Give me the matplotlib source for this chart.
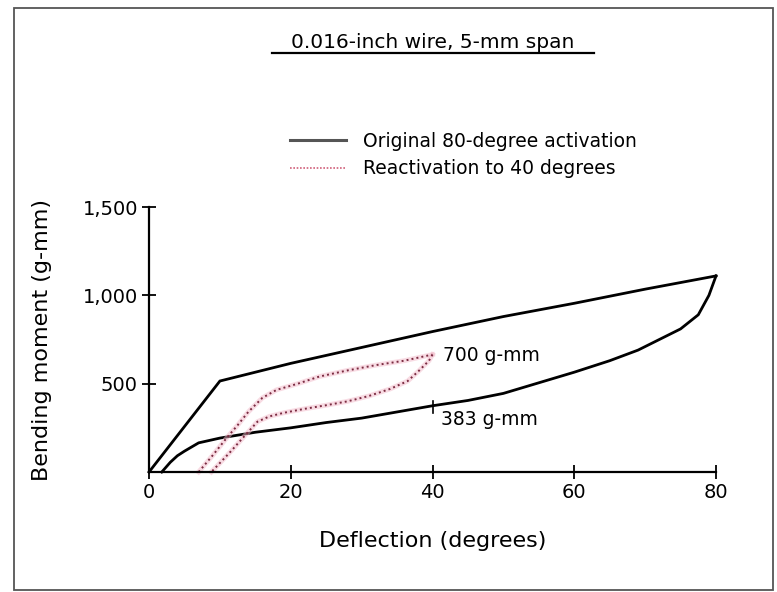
import matplotlib
matplotlib.use("Agg")
import matplotlib.pyplot as plt
from matplotlib.lines import Line2D
from matplotlib.patches import Rectangle

plt.rcParams['font.family'] = ['DejaVu Sans']

# original 80-degree activation: loading then unloading branch
load_x = [0, 10, 20, 30, 40, 50, 60, 70, 80]
load_y = [0, 515, 615, 705, 795, 880, 955, 1035, 1110]
unload_x = [80, 79, 77.5, 75, 72, 69, 65, 60, 55, 50, 45, 40, 35, 30, 25, 20, 15, 10, 7, 5, 4, 3, 1.8]
unload_y = [1110, 1000, 890, 810, 750, 690, 630, 565, 505, 445, 405, 375, 340, 305, 280, 250, 225, 192, 165, 118, 92, 55, 0]

# reactivation to 40 degrees
react_up_x = [7, 9, 11, 12.5, 14, 16, 18, 21, 24, 28, 32, 36, 40]
react_up_y = [0, 95, 195, 265, 340, 420, 465, 500, 540, 575, 605, 630, 665]
react_dn_x = [40, 39.5, 38, 36.5, 34, 31, 28, 25, 22, 19, 17, 15.3, 13.5, 11.5, 8.8]
react_dn_y = [665, 630, 570, 515, 470, 430, 400, 378, 358, 335, 315, 285, 205, 115, 0]

xticks = [0, 20, 40, 60, 80]
yticks = [500, 1000, 1500]
ytick_labels = ['500', '1,000', '1,500']

fig = plt.figure(figsize=(7.77, 5.92), dpi=100)
ax = fig.add_axes([0.1918, 0.2027, 0.7297, 0.4476])

ax.plot(load_x, load_y, color='black', lw=2.0, clip_on=False, solid_joinstyle='miter')
ax.plot(unload_x, unload_y, color='black', lw=2.0, clip_on=False)

for xs, ys in [(react_up_x, react_up_y), (react_dn_x, react_dn_y)]:
    ax.plot(xs, ys, color='#f2b8c8', lw=3.5, alpha=0.5, clip_on=False)
    ax.plot(xs, ys, color='#7a2a40', lw=1.4, ls=(0, (1, 1.6)), clip_on=False)

# small marker at 40 degrees on the unloading curve
ax.plot([40, 40], [335, 400], color='black', lw=1.2)

ax.text(41.5, 660, '700 g-mm', fontsize=13.5, va='center', ha='left')
ax.text(41.2, 295, '383 g-mm', fontsize=13.5, va='center', ha='left')

ax.set_xlim(0, 80)
ax.set_ylim(0, 1500)
ax.set_xticks(xticks)
ax.set_yticks(yticks)
ax.set_yticklabels(ytick_labels)
ax.tick_params(direction='inout', length=10, width=1.3, labelsize=14, pad=3)
for s in ['top', 'right']:
    ax.spines[s].set_visible(False)
for s in ['left', 'bottom']:
    ax.spines[s].set_linewidth(1.6)

ax.set_xlabel('Deflection (degrees)', fontsize=16, labelpad=21)
ax.set_ylabel('Bending moment (g-mm)', fontsize=16, labelpad=22)

handles = [Line2D([], [], color='#555555', lw=2.2),
           Line2D([], [], color='#d0607a', lw=1.2, ls=(0, (1, 1)))]
ax.legend(handles, ['Original 80-degree activation', 'Reactivation to 40 degrees'],
          loc='upper left', bbox_to_anchor=(0.373, 0.777), bbox_transform=fig.transFigure,
          frameon=False, fontsize=13.5, handlelength=3.0, handletextpad=0.9,
          labelspacing=0.45, borderpad=0, borderaxespad=0)

# underlined title
fig.text(0.557, 0.929, '0.016-inch wire, 5-mm span', fontsize=14.5, ha='center', va='center')
fig.add_artist(Line2D([0.350, 0.7645], [0.9105, 0.9105], color='black', lw=1.6))

# scanned page frame
fig.add_artist(Rectangle((0.018, 0.003), 0.977, 0.9835, fill=False, edgecolor='#555555', lw=1.3))

fig.savefig('out.png', dpi=100)
